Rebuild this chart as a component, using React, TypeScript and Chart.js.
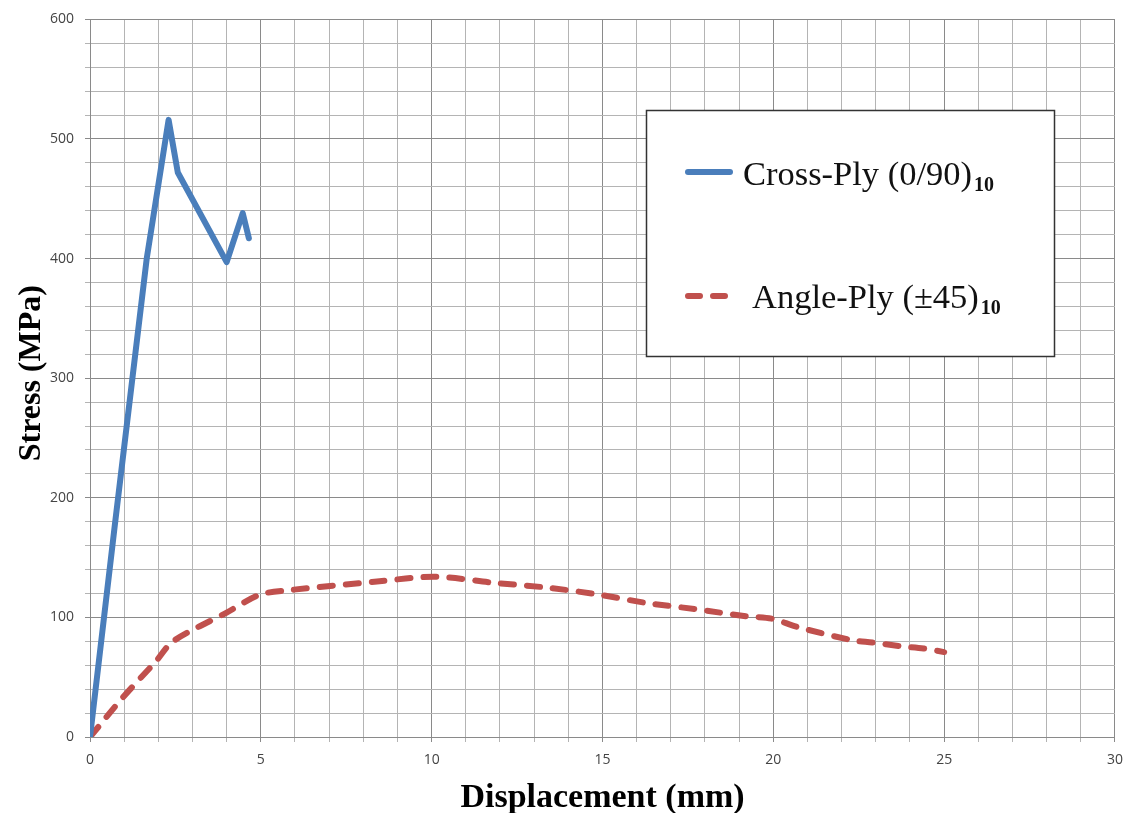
import React, { useEffect, useRef } from "react";
import { Chart, registerables } from "chart.js";

Chart.register(...registerables);

const crossPlyX = [0, 0.73, 1.66, 2.3, 2.57, 4.0, 4.47, 4.65];
const crossPlyY = [0, 178, 400, 516, 472, 397, 438, 417];

const anglePlyX = [0, 0.96, 1.95, 2.43, 4.0, 4.97, 5.9, 8.4, 10.1, 11.8, 13.35, 14.8, 16.3, 17.7, 19.2, 19.95, 20.7, 22.3, 22.9, 23.7, 24.4, 25];
const anglePlyY = [0, 33, 64, 80, 104, 119, 123, 130, 134, 129, 125, 119.5, 112, 107, 101, 99, 92, 81, 79, 76, 74, 71];

const xTickLabels = [0, 5, 10, 15, 20, 25, 30];
const yTickLabels = [0, 100, 200, 300, 400, 500, 600];

const seriesNames = ["Cross-Ply (0/90)", "Angle-Ply (\u00b145)"];
const seriesSub = ["10", "10"];
const xTitle = "Displacement (mm)";
const yTitle = "Stress (MPa)";

const BLUE = "#4a7ebb";
const RED = "#c0504d";

export default function App() {
  const ref = useRef<HTMLCanvasElement | null>(null);

  useEffect(() => {
    document.body.style.margin = "0";
    const canvas = ref.current;
    if (!canvas) return;

    const overlay = {
      id: "overlay",
      afterDraw(chart: any) {
        const ctx = chart.ctx as CanvasRenderingContext2D;
        const area = chart.chartArea;
        ctx.save();
        // axis titles
        ctx.fillStyle = "#000";
        ctx.font = "bold 34px 'Liberation Serif', 'Times New Roman', serif";
        ctx.textAlign = "center";
        ctx.textBaseline = "alphabetic";
        ctx.fillText(xTitle, (area.left + area.right) / 2, 807);
        ctx.save();
        ctx.translate(40, (area.top + area.bottom) / 2 - 5);
        ctx.rotate(-Math.PI / 2);
        ctx.font = "bold 32px 'Liberation Serif', 'Times New Roman', serif";
        ctx.fillText(yTitle, 0, 0);
        ctx.restore();

        // legend box
        const bx = 646.5, by = 110.5, bw = 408, bh = 246;
        ctx.fillStyle = "#fff";
        ctx.fillRect(bx, by, bw, bh);
        ctx.strokeStyle = "#333";
        ctx.lineWidth = 1.5;
        ctx.strokeRect(bx, by, bw, bh);

        const rows = [
          { y: 172, color: BLUE, dash: [] as number[], textX: 743, base: 185, name: seriesNames[0], sub: seriesSub[0] },
          { y: 296, color: RED, dash: [12, 13], textX: 752, base: 308, name: seriesNames[1], sub: seriesSub[1] },
        ];
        rows.forEach((r) => {
          ctx.beginPath();
          ctx.strokeStyle = r.color;
          ctx.lineWidth = 6;
          ctx.lineCap = "round";
          ctx.setLineDash(r.dash);
          ctx.moveTo(688, r.y);
          ctx.lineTo(730, r.y);
          ctx.stroke();
          ctx.setLineDash([]);
          ctx.fillStyle = "#111";
          ctx.textAlign = "left";
          ctx.font = "34.5px 'Liberation Serif', 'Times New Roman', serif";
          ctx.fillText(r.name, r.textX, r.base);
          const w = ctx.measureText(r.name).width;
          ctx.font = "bold 20px 'Liberation Serif', 'Times New Roman', serif";
          ctx.fillText(r.sub, r.textX + w + 2, r.base + 6);
        });
        ctx.restore();
      },
    };

    const gridColor = (ctx: any) =>
      ctx.tick && Math.round(ctx.tick.value) % (ctx.scale.axis === "x" ? 5 : 100) === 0 ? "#8a8a8a" : "#b4b4b4";

    const chart = new Chart(canvas, {
      type: "scatter",
      data: {
        datasets: [
          {
            label: seriesNames[0],
            data: crossPlyX.map((x, i) => ({ x, y: crossPlyY[i] })),
            showLine: true,
            borderColor: BLUE,
            backgroundColor: BLUE,
            borderWidth: 6,
            pointRadius: 0,
            borderJoinStyle: "round",
            borderCapStyle: "round",
            tension: 0,
          },
          {
            label: seriesNames[1],
            data: anglePlyX.map((x, i) => ({ x, y: anglePlyY[i] })),
            showLine: true,
            borderColor: RED,
            backgroundColor: RED,
            borderWidth: 6,
            borderDash: [13, 13],
            borderCapStyle: "round",
            borderJoinStyle: "round",
            pointRadius: 0,
            tension: 0.3,
          },
        ],
      },
      options: {
        responsive: false,
        animation: false,
        layout: { padding: { left: 0, top: 14, right: 16, bottom: 0 } },
        plugins: { legend: { display: false }, tooltip: { enabled: false } },
        scales: {
          x: {
            type: "linear",
            min: 0,
            max: 30,
            afterFit: (s: any) => {
              s.height = 76;
            },
            afterBuildTicks: (s: any) => {
              const t = [];
              for (let v = 0; v <= 30; v++) t.push({ value: v });
              s.ticks = t;
            },
            ticks: {
              autoSkip: false,
              maxRotation: 0,
              padding: 10,
              color: "#444",
              font: { family: "'Open Sans', sans-serif", size: 14 },
              callback: (v: any) => (xTickLabels.includes(v) ? String(v) : ""),
            },
            grid: { color: gridColor, lineWidth: 1, tickLength: 5, drawTicks: true },
            border: { color: "#8a8a8a", width: 1 },
          },
          y: {
            type: "linear",
            min: 0,
            max: 600,
            afterFit: (s: any) => {
              s.width = 90;
            },
            afterBuildTicks: (s: any) => {
              const t = [];
              for (let v = 0; v <= 600; v += 20) t.push({ value: v });
              s.ticks = t;
            },
            ticks: {
              autoSkip: false,
              padding: 11,
              color: "#444",
              font: { family: "'Open Sans', sans-serif", size: 14 },
              callback: (v: any) => (yTickLabels.includes(v) ? String(v) : ""),
            },
            grid: { color: gridColor, lineWidth: 1, tickLength: 5, drawTicks: true },
            border: { color: "#8a8a8a", width: 1 },
          },
        },
      },
      plugins: [overlay],
    } as any);

    return () => chart.destroy();
  }, []);

  return (
    <div style={{ width: 1133, height: 813, background: "#fff" }}>
      <canvas ref={ref} width={1133} height={813} style={{ display: "block" }} />
    </div>
  );
}
